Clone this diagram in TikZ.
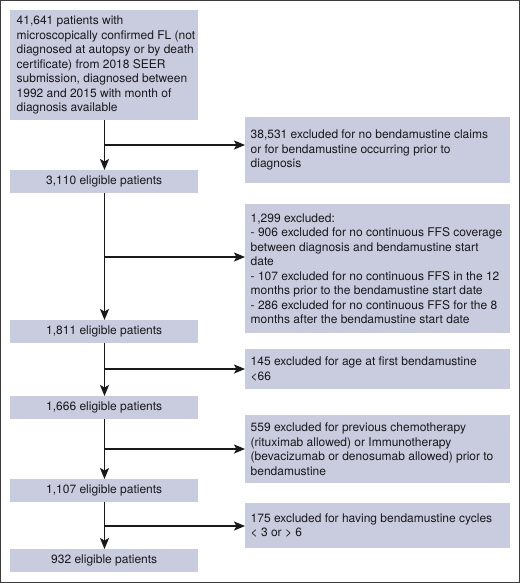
\documentclass[tikz,border=0pt]{standalone}
\usepackage{fontspec}
\setmainfont{TeX Gyre Heros}
\usetikzlibrary{arrows.meta}
\definecolor{boxfill}{RGB}{201,203,223}
\definecolor{framecol}{RGB}{60,60,60}
\tikzset{
  base/.style={fill=boxfill, draw=none, anchor=north west, inner sep=0pt},
  leftbox/.style={base, minimum width=188pt},
  countbox/.style={base, minimum width=188pt, minimum height=23pt,
    font=\fontsize{12pt}{14.5pt}\selectfont, text=black!90},
  rightbox/.style={base, minimum width=265pt},
  txt/.style={anchor=west, align=left, inner sep=0pt,
    font=\fontsize{12pt}{14.5pt}\selectfont, text=black!90},
  flow/.style={line width=1.5pt, draw=black!90, -{Stealth[length=11pt,width=9pt,inset=2.5pt]}}
}
\begin{document}
\begin{tikzpicture}[x=1pt,y=1pt]
\useasboundingbox (0,0) rectangle (520,-583);
\draw[framecol, line width=1.2pt] (0.6,-0.6) rectangle (519.4,-582.4);

\node[leftbox, minimum height=110pt] (top) at (10,-10) {};
\node[txt] (topt) at ([xshift=6.5pt]top.west) {41,641 patients with\\microscopically confirmed FL (not\\diagnosed at autopsy or by death\\certificate) from 2018 SEER\\submission, diagnosed between\\1992 and 2015 with month of\\diagnosis available};
\node[countbox] (c1) at (10,-170) {3,110 eligible patients};
\node[countbox] (c2) at (10,-320) {1,811 eligible patients};
\node[countbox] (c3) at (10,-396) {1,666 eligible patients};
\node[countbox] (c4) at (10,-479) {1,107 eligible patients};
\node[countbox] (c5) at (10,-549) {932 eligible patients};

\node[rightbox, minimum height=66pt] (e1) at (245,-117) {};
\node[txt] (e1t) at ([xshift=5.5pt]e1.west) {38,531 excluded for no bendamustine claims\\or for bendamustine occurring prior to\\diagnosis};
\node[rightbox, minimum height=129pt] (e2) at (245,-204) {};
\node[txt] (e2t) at ([xshift=5.5pt]e2.west) {1,299 excluded:\\- 906 excluded for no continuous FFS coverage\\between diagnosis and bendamustine start\\date\\- 107 excluded for no continuous FFS in the 12\\months prior to the bendamustine start date\\- 286 excluded for no continuous FFS for the 8\\months after the bendamustine start date};
\node[rightbox, minimum height=40pt] (e3) at (245,-349) {};
\node[txt] (e3t) at ([xshift=5.5pt]e3.west) {145 excluded for age at first bendamustine\\<66};
\node[rightbox, minimum height=68pt] (e4) at (245,-415) {};
\node[txt] (e4t) at ([xshift=5.5pt]e4.west) {559 excluded for previous chemotherapy\\(rituximab allowed) or Immunotherapy\\(bevacizumab or denosumab allowed) prior to\\bendamustine};
\node[rightbox, minimum height=45pt] (e5) at (245,-503) {};
\node[txt] (e5t) at ([xshift=5.5pt]e5.west) {175 excluded for having bendamustine cycles\\< 3 or > 6};

\coordinate (b1) at (104.5,-145);
\coordinate (b2) at (104.5,-257);
\coordinate (b3) at (104.5,-369);
\coordinate (b4) at (104.5,-449);
\coordinate (b5) at (104.5,-526);

\draw[flow] (top.south -| b1) -- (c1.north -| b1);
\draw[flow] (c1.south -| b1) -- (c2.north -| b1);
\draw[flow] (c2.south -| b1) -- (c3.north -| b1);
\draw[flow] (c3.south -| b1) -- (c4.north -| b1);
\draw[flow] (c4.south -| b1) -- (c5.north -| b1);

\draw[flow] (b1) -- (b1 -| e1.west);
\draw[flow] (b2) -- (b2 -| e2.west);
\draw[flow] (b3) -- (b3 -| e3.west);
\draw[flow] (b4) -- (b4 -| e4.west);
\draw[flow] (b5) -- (b5 -| e5.west);
\end{tikzpicture}
\end{document}
